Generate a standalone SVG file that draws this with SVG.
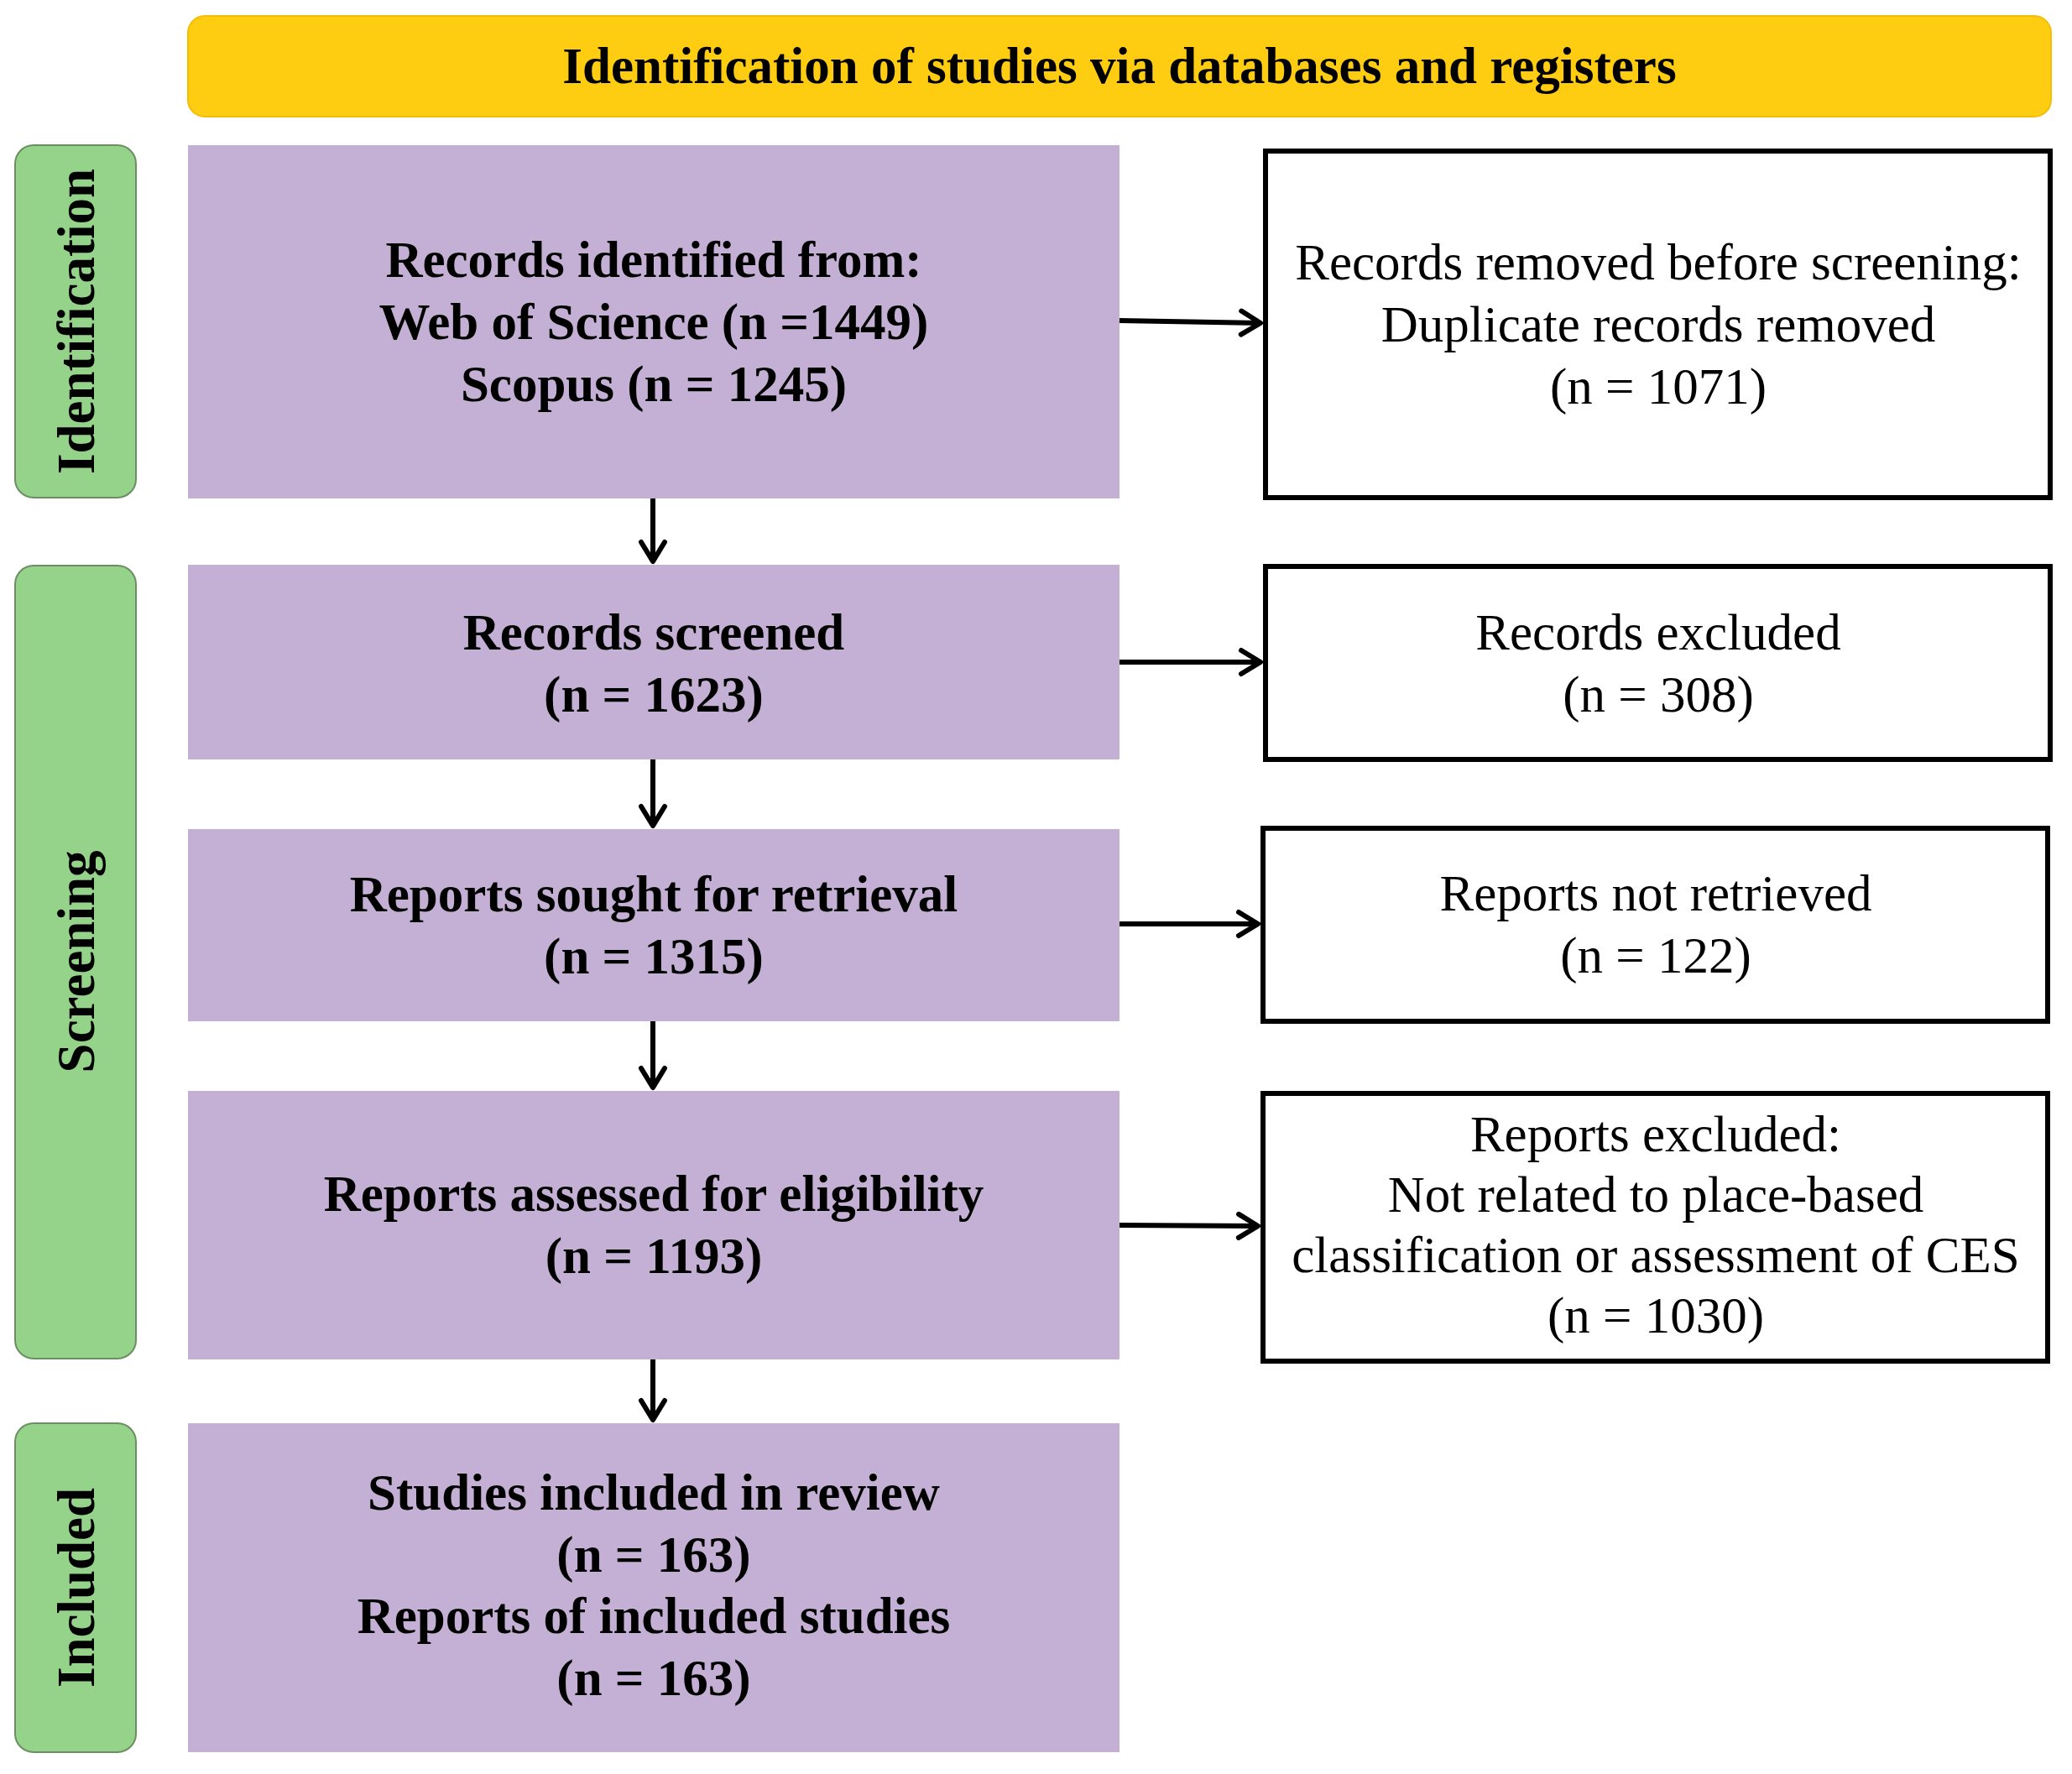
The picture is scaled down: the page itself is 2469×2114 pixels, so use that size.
<svg xmlns="http://www.w3.org/2000/svg" width="2469" height="2114" viewBox="0 0 2469 2114">
<style>
.bg{fill:#ffffff}
.head{fill:#FECC10;stroke:#F2BE08;stroke-width:2}
.phase{fill:#96D38A;stroke:#6B8F63;stroke-width:2}
.proc{fill:#C4B0D4}
.side{fill:#ffffff;stroke:#000;stroke-width:6}
.tb{font-family:"Liberation Serif","Times New Roman",serif;font-weight:bold;font-size:61px;fill:#000;text-anchor:middle}
.tr{font-family:"Liberation Serif","Times New Roman",serif;font-size:61px;fill:#000;text-anchor:middle}
.tl{font-family:"Liberation Serif","Times New Roman",serif;font-weight:bold;font-size:63px;fill:#000;text-anchor:middle}
.conn{stroke:#000;stroke-width:6;fill:none;marker-end:url(#arr)}
</style>
<defs>
<marker id="arr" markerUnits="userSpaceOnUse" markerWidth="40" markerHeight="40" viewBox="-30 -20 40 40" refX="0" refY="0" orient="auto" overflow="visible">
<path d="M-24,-14 L-1,0 L-24,14" fill="none" stroke="#000" stroke-width="6" stroke-linecap="round" stroke-linejoin="round"/>
</marker>
</defs>
<rect class="bg" x="0" y="0" width="2469" height="2114"/>

<g id="header">
<rect class="head" x="224" y="19" width="2220" height="120" rx="20" ry="20"/>
<text class="tb" x="1334" y="99">Identification of studies via databases and registers</text>
</g>

<g id="phase-identification">
<rect class="phase" x="18" y="173" width="144" height="420" rx="22" ry="22"/>
<text class="tl" transform="translate(112,383) rotate(-90)">Identification</text>
</g>
<g id="phase-screening">
<rect class="phase" x="18" y="674" width="144" height="945" rx="22" ry="22"/>
<text class="tl" transform="translate(112,1146) rotate(-90)">Screening</text>
</g>
<g id="phase-included">
<rect class="phase" x="18" y="1696" width="144" height="392" rx="22" ry="22"/>
<text class="tl" transform="translate(112,1892) rotate(-90)">Included</text>
</g>

<g id="records-identified">
<rect class="proc" x="224" y="173" width="1110" height="421"/>
<text class="tb" x="779" y="330">Records identified from:</text>
<text class="tb" x="779" y="404">Web of Science (n =1449)</text>
<text class="tb" x="779" y="478">Scopus (n = 1245)</text>
</g>
<g id="records-removed">
<rect class="side" x="1508" y="180" width="935" height="413"/>
<text class="tr" x="1976" y="333">Records removed before screening:</text>
<text class="tr" x="1976" y="407">Duplicate records removed</text>
<text class="tr" x="1976" y="481">(n = 1071)</text>
</g>

<g id="records-screened">
<rect class="proc" x="224" y="673" width="1110" height="232"/>
<text class="tb" x="779" y="774">Records screened</text>
<text class="tb" x="779" y="848">(n = 1623)</text>
</g>
<g id="records-excluded">
<rect class="side" x="1508" y="675" width="935" height="230"/>
<text class="tr" x="1976" y="774">Records excluded</text>
<text class="tr" x="1976" y="848">(n = 308)</text>
</g>

<g id="reports-sought">
<rect class="proc" x="224" y="988" width="1110" height="229"/>
<text class="tb" x="779" y="1086">Reports sought for retrieval</text>
<text class="tb" x="779" y="1160">(n = 1315)</text>
</g>
<g id="reports-not-retrieved">
<rect class="side" x="1505" y="987" width="935" height="230"/>
<text class="tr" x="1973" y="1085">Reports not retrieved</text>
<text class="tr" x="1973" y="1159">(n = 122)</text>
</g>

<g id="reports-assessed">
<rect class="proc" x="224" y="1300" width="1110" height="320"/>
<text class="tb" x="779" y="1443">Reports assessed for eligibility</text>
<text class="tb" x="779" y="1517">(n = 1193)</text>
</g>
<g id="reports-excluded">
<rect class="side" x="1505" y="1303" width="935" height="319"/>
<text class="tr" x="1973" y="1372">Reports excluded:</text>
<text class="tr" x="1973" y="1444">Not related to place-based</text>
<text class="tr" x="1973" y="1516">classification or assessment of CES</text>
<text class="tr" x="1973" y="1588">(n = 1030)</text>
</g>

<g id="studies-included">
<rect class="proc" x="224" y="1696" width="1110" height="392"/>
<text class="tb" x="779" y="1799">Studies included in review</text>
<text class="tb" x="779" y="1873">(n = 163)</text>
<text class="tb" x="779" y="1946">Reports of included studies</text>
<text class="tb" x="779" y="2020">(n = 163)</text>
</g>

<g id="connectors">
<line class="conn" x1="1334" y1="382" x2="1503" y2="385"/>
<line class="conn" x1="1334" y1="789" x2="1503" y2="789"/>
<line class="conn" x1="1334" y1="1101" x2="1500" y2="1101"/>
<line class="conn" x1="1334" y1="1460" x2="1500" y2="1461"/>
<line class="conn" x1="778" y1="594" x2="778" y2="670"/>
<line class="conn" x1="778" y1="905" x2="778" y2="985"/>
<line class="conn" x1="778" y1="1217" x2="778" y2="1297"/>
<line class="conn" x1="778" y1="1620" x2="778" y2="1693"/>
</g>
</svg>
